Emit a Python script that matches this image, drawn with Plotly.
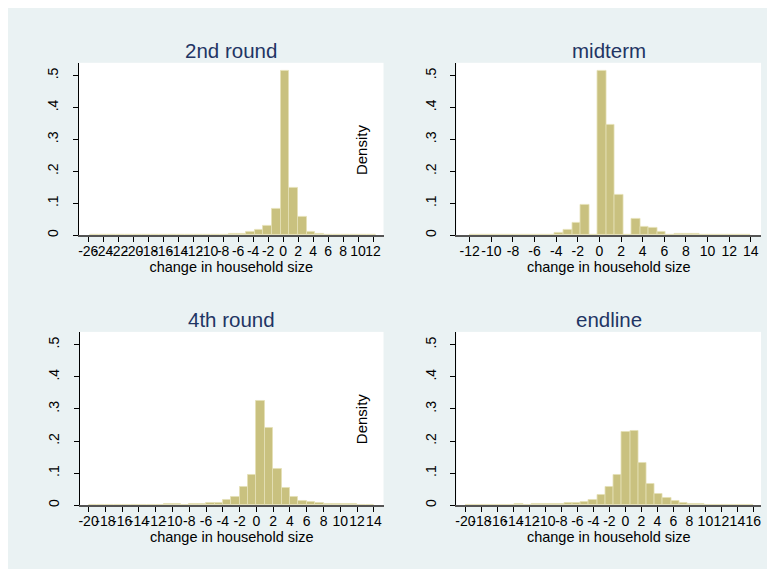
import plotly.graph_objects as go

# ---------------- data ----------------
panel_titles = ["2nd round", "midterm", "4th round", "endline"]
x_title = "change in household size"
y_title = "Density"

# 2nd round histogram
r2_start = -25.78
r2_width = 1.156
r2_density = [0.0015, 0.0015, 0, 0, 0, 0, 0.0015, 0, 0, 0.0015, 0.0015, 0.0015, 0,
              0.0015, 0.0015, 0.0015, 0.004, 0.005, 0.0105, 0.0157, 0.030, 0.084,
              0.514, 0.149, 0.059, 0.0115, 0.005, 0.002, 0.002, 0.002, 0.0015, 0, 0.0015]
r2_ticks = list(range(-26, 13, 2))
r2_range = [-27.25, 13.4]

# midterm histogram
mid_start = -12
mid_width = 26 / 33
mid_density = [0.0013, 0, 0.0013, 0.0013, 0, 0.0019, 0.0019, 0.0019, 0.0025, 0,
               0.0084, 0.0157, 0.039, 0.095, 0, 0.514, 0.345, 0.128, 0, 0.051,
               0.025, 0.022, 0.0115, 0, 0.0045, 0.004, 0.0035, 0.0013, 0, 0,
               0.0013, 0.0013, 0.0013]
mid_ticks = list(range(-12, 15, 2))
mid_range = [-13.23, 14.95]

# 4th round histogram
r4_start = -20
r4_width = 1.0
r4_density = [0, 0.002, 0.002, 0.002, 0, 0.002, 0.002, 0, 0, 0.003, 0.003, 0,
              0.005, 0.005, 0.007, 0.007, 0.017, 0.025, 0.058, 0.094, 0.324, 0.241,
              0.112, 0.053, 0.0255, 0.015, 0.010, 0.008, 0.005, 0.005, 0.003, 0.003,
              0, 0.002]
r4_ticks = list(range(-20, 15, 2))
r4_range = [-21.03, 15.15]

# endline histogram
end_start = -20
end_width = 36 / 35
end_density = [0, 0.002, 0.002, 0, 0, 0, 0.003, 0, 0.003, 0.003, 0.004, 0.004,
               0.008, 0.008, 0.012, 0.018, 0.031, 0.058, 0.094, 0.230, 0.232, 0.133,
               0.066, 0.036, 0.0235, 0.015, 0.008, 0.005, 0.005, 0.002, 0.002, 0.002,
               0.002, 0.002, 0.001]
end_ticks = list(range(-20, 17, 2))
end_range = [-21.12, 16.96]

y_ticks = [0, 0.1, 0.2, 0.3, 0.4, 0.5]
y_ticktext = ["0", ".1", ".2", ".3", ".4", ".5"]
y_range = [0, 0.54]

# ---------------- styling ----------------
W, H = 790, 585
BG = "#eaf2f3"
BAR = "#c9c17f"
BAR_EDGE = "#e4e0b6"
NAVY = "#1f3564"
FONT = "Arial, Liberation Sans, sans-serif"

# panel pixel boxes in figure coordinates: (left, right, top, bottom)
boxes = [(70, 375, 55, 228), (448, 753, 55, 228),
         (71, 375, 325, 499), (448, 753, 325, 499)]

panels = [
    (r2_start, r2_width, r2_density, r2_ticks, r2_range),
    (mid_start, mid_width, mid_density, mid_ticks, mid_range),
    (r4_start, r4_width, r4_density, r4_ticks, r4_range),
    (end_start, end_width, end_density, end_ticks, end_range),
]

fig = go.Figure()
layout = dict(
    width=W, height=H,
    margin=dict(l=0, r=0, t=0, b=0),
    paper_bgcolor=BG, plot_bgcolor="white",
    showlegend=False, bargap=0,
    font=dict(family=FONT, size=14, color="black"),
)
annotations = []

for i, ((start, width, dens, ticks, xr), (l, r, t, b), title) in enumerate(
        zip(panels, boxes, panel_titles)):
    n = i + 1
    xa = "x" if n == 1 else f"x{n}"
    ya = "y" if n == 1 else f"y{n}"
    centers = [start + width * (k + 0.5) for k in range(len(dens))]
    fig.add_trace(go.Bar(
        x=centers, y=dens, width=width,
        marker=dict(color=BAR, line=dict(color=BAR_EDGE, width=0.8)),
        xaxis=xa, yaxis=ya, hoverinfo="x+y",
    ))
    dom_x = [l / W, r / W]
    dom_y = [1 - b / H, 1 - t / H]
    layout["xaxis" if n == 1 else f"xaxis{n}"] = dict(
        domain=dom_x, anchor=ya, range=xr,
        tickmode="array", tickvals=ticks, ticktext=[str(v) for v in ticks],
        tickangle=0, ticks="outside", ticklen=5, tickcolor="black", tickwidth=1,
        ticklabelstandoff=-3,
        showline=True, linecolor="#555555", linewidth=1.5,
        showgrid=False, zeroline=False,
        tickfont=dict(size=14, color="black"),
        title=dict(text=x_title, font=dict(size=14.5, color="black"), standoff=3),
    )
    layout["yaxis" if n == 1 else f"yaxis{n}"] = dict(
        domain=dom_y, anchor=xa, range=y_range,
        tickmode="array", tickvals=y_ticks, ticktext=y_ticktext,
        tickangle=-90, ticks="outside", ticklen=5, tickcolor="black", tickwidth=1,
        ticklabelstandoff=9,
        showline=True, linecolor="black", linewidth=1,
        showgrid=False, zeroline=False,
        tickfont=dict(size=14, color="black"),
    )
    annotations.append(dict(
        text=title, xref="paper", yref="paper",
        x=(l + r) / 2 / W, y=1 - (t - 12) / H,
        showarrow=False, xanchor="center", yanchor="middle",
        font=dict(size=20.5, color=NAVY),
    ))
    if n in (1, 3):
        annotations.append(dict(
            text=y_title, xref="paper", yref="paper",
            x=(r - 22.5) / W, y=1 - (t + 87.5) / H, textangle=-90,
            showarrow=False, xanchor="center", yanchor="middle",
            font=dict(size=15, color="black"),
        ))

layout["annotations"] = annotations
fig.update_layout(**layout)
fig.write_html("out.html")
